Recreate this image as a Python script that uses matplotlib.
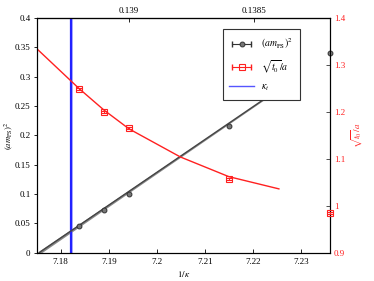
import matplotlib
matplotlib.use('Agg')
import matplotlib.pyplot as plt
from matplotlib.lines import Line2D
from matplotlib.legend_handler import HandlerLine2D

plt.rcParams['font.family'] = ['Liberation Serif', 'DejaVu Serif']
plt.rcParams['mathtext.fontset'] = 'stix'
plt.rcParams['font.size'] = 6.5

# data
inv_kappa = [7.1838, 7.189, 7.1942, 7.215, 7.236]
mps2 = [0.045, 0.0733, 0.100, 0.2165, 0.340]
sqrt_t0 = [1.2487, 1.200, 1.166, 1.0577, 0.985]

fit_x = [7.1755, 7.2254]
fit_y = [0.0, 0.279]

curve_x = [7.175, 7.1838, 7.189, 7.1942, 7.2049, 7.215, 7.2254]
curve_y = [1.335, 1.250, 1.204, 1.164, 1.104, 1.062, 1.036]

kappa_t = 7.1822
kappa_t_err = 0.0003

top_ticks = [0.139, 0.1385]

fig = plt.figure(figsize=(3.74, 2.81), dpi=100)
ax = fig.add_axes([0.098, 0.1007, 0.784, 0.835])
ax2 = ax.twinx()

# kappa_t band
ax.axvspan(kappa_t - kappa_t_err, kappa_t + kappa_t_err, color='#9999ff', alpha=0.7, lw=0)
ax.axvline(kappa_t, color='#2222ff', lw=1.6)

# black fit
ax.fill_between(fit_x, [fit_y[0] - 0.003, fit_y[1] - 0.001], [fit_y[0] + 0.003, fit_y[1] + 0.001],
                color='#888888', lw=0)
ax.plot(fit_x, fit_y, color='#444444', lw=1.0)
ax.errorbar(inv_kappa, mps2, yerr=0.001, fmt='o', ms=3.5, mfc='#777777', mec='#333333',
            mew=0.7, ecolor='#333333', capsize=1.5, lw=0.7, clip_on=False, zorder=5)

# red curve
ax2.plot(curve_x, curve_y, color='#ff2020', lw=1.0)
ax2.errorbar(inv_kappa, sqrt_t0, yerr=0.002, fmt='s', ms=4.5, mfc='none', mec='#ff2020',
             mew=0.8, ecolor='#ff2020', capsize=2, lw=0.7, clip_on=False, zorder=5)

ax.set_xlim(7.175, 7.236)
ax.set_ylim(0, 0.4)
ax2.set_ylim(0.9, 1.4)
ax.set_xticks([7.18, 7.19, 7.2, 7.21, 7.22, 7.23])
ax.set_xticklabels(['7.18', '7.19', '7.2', '7.21', '7.22', '7.23'])
ax.set_yticks([0, 0.05, 0.1, 0.15, 0.2, 0.25, 0.3, 0.35, 0.4])
ax.set_yticklabels(['0', '0.05', '0.1', '0.15', '0.2', '0.25', '0.3', '0.35', '0.4'])
ax2.set_yticks([0.9, 1.0, 1.1, 1.2, 1.3, 1.4])
ax2.set_yticklabels(['0.9', '1', '1.1', '1.2', '1.3', '1.4'])

ax.tick_params(axis='x', direction='in', length=3, width=0.6, pad=4)
ax.tick_params(axis='y', direction='out', length=2.5, width=0.6, pad=2)
ax2.tick_params(axis='y', direction='in', length=3, width=0.6, colors='#ff2020', pad=3)
ax2.tick_params(axis='y', color='#333333')

for sp in ['left', 'bottom', 'top', 'right']:
    ax2.spines[sp].set_linewidth(0.8)
    ax.spines[sp].set_linewidth(0.8)

top = ax.secondary_xaxis('top', functions=(lambda x: 1 / x, lambda k: 1 / k))
top.set_xticks(top_ticks)
top.set_xticklabels(['0.139', '0.1385'])
top.tick_params(direction='in', length=3, width=0.6, pad=2)

ax.set_xlabel(r'$1/\kappa$', labelpad=2)
ax.set_ylabel(r'$(am_{\rm PS})^2$', labelpad=0, fontsize=6.2)
ax2.set_ylabel(r'$\sqrt{t_0}/a$', color='#ff2020', labelpad=3)

# legend with gnuplot-like error bar symbols
k_caps = Line2D([], [], color='#333333', lw=0.8, marker='|', ms=4)
k_mark = Line2D([], [], color='#333333', lw=0, marker='o', ms=3.5, mfc='#777777', mew=0.7)
r_caps = Line2D([], [], color='#ff2020', lw=0.8, marker='|', ms=5)
r_mark = Line2D([], [], color='#ff2020', lw=0, marker='s', ms=4.5, mfc='none', mew=0.8)
b_line = Line2D([], [], color='#5555ff', lw=1.0)
hmap = {k_caps: HandlerLine2D(numpoints=2), r_caps: HandlerLine2D(numpoints=2),
        k_mark: HandlerLine2D(numpoints=1), r_mark: HandlerLine2D(numpoints=1)}
leg = ax2.legend([(k_caps, k_mark), (r_caps, r_mark), b_line],
                 [r'$(am_{\rm PS})^2$', r'$\sqrt{t_0}/a$', r'$\kappa_t$'],
                 handler_map=hmap, loc='upper left', bbox_to_anchor=(0.634, 0.952),
                 fancybox=False, framealpha=1, edgecolor='#333333', fontsize=7,
                 handlelength=2.5, handletextpad=0.8, labelspacing=0.75,
                 borderpad=0.7, borderaxespad=0)
leg.get_frame().set_linewidth(0.8)

fig.savefig('out.png', dpi=100)
